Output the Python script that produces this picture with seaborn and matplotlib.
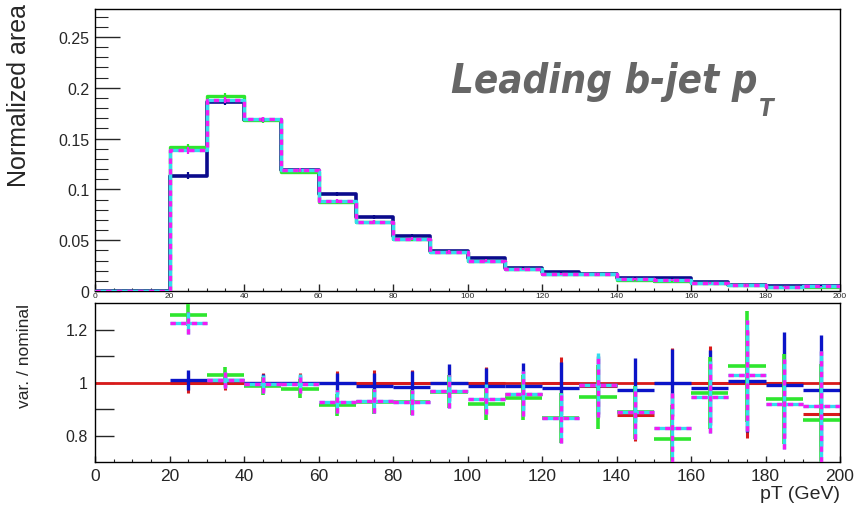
import numpy as np
import pandas as pd
import matplotlib
matplotlib.use("Agg")
import matplotlib.pyplot as plt
import seaborn as sns
from matplotlib import font_manager as fm
from matplotlib.ticker import MultipleLocator, FuncFormatter, FixedLocator

# ---------------- data ----------------
edges = list(range(0, 201, 10))
centers = [e + 5 for e in edges[:-1]]

# normalized area (top panel)
navy_vals = [0, 0, 0.1134, 0.186, 0.1685, 0.119, 0.0954, 0.0732, 0.0542, 0.039,
             0.032, 0.0225, 0.019, 0.017, 0.0127, 0.0127, 0.0085, 0.0056, 0.0046, 0.005]
green_vals = [0, 0, 0.1418, 0.1915, 0.168, 0.1173, 0.0876, 0.068, 0.0510, 0.0385,
              0.0298, 0.0215, 0.0166, 0.0163, 0.0113, 0.0102, 0.0083, 0.006, 0.0043, 0.0043]
magenta_vals = [0, 0, 0.1386, 0.188, 0.169, 0.1195, 0.0886, 0.0683, 0.0513, 0.0385,
                0.030, 0.0220, 0.0166, 0.017, 0.0114, 0.011, 0.0081, 0.0058, 0.0042, 0.0046]
top_err = [0, 0, 0.0033, 0.003, 0.0025, 0.002, 0.002, 0.002, 0.0015, 0.0015,
           0.0015, 0.001, 0.001, 0.001, 0.001, 0.001, 0.0008, 0.0008, 0.0006, 0.0006]

# ratios var / nominal (bottom panel)
nan = float("nan")
blue_ratio = [nan, nan, 1.010, 1.008, 0.999, 1.0, 0.997, 0.987, 0.982, 1.0,
              0.986, 0.986, 0.979, 0.99, 0.971, 1.0, 0.981, 1.005, 0.991, 0.971]
green_ratio = [nan, nan, 1.256, 1.030, 0.987, 0.976, 0.915, 0.928, 0.925, 0.965,
               0.917, 0.942, 0.865, 0.945, 0.887, 0.785, 0.961, 1.061, 0.937, 0.859]
magenta_ratio = [nan, nan, 1.225, 1.011, 0.995, 0.995, 0.928, 0.930, 0.925, 0.967,
                 0.938, 0.958, 0.865, 0.99, 0.887, 0.830, 0.944, 1.027, 0.920, 0.910]
red_ratio = [nan, nan, 1, 1, 1, 1, 1, 1, 1, 1,
             1, 0.958, 1, 0.987, 0.878, 1, 1, 1, 1, 0.882]
blue_err = [0, 0, 0.038, 0.025, 0.032, 0.03, 0.04, 0.05, 0.061, 0.069,
            0.07, 0.088, 0.10, 0.11, 0.12, 0.125, 0.14, 0.19, 0.20, 0.21]
var_err = [0, 0, 0.041, 0.03, 0.035, 0.036, 0.043, 0.046, 0.047, 0.063,
           0.058, 0.085, 0.095, 0.12, 0.10, 0.13, 0.136, 0.21, 0.17, 0.21]

NAVY = "#0a0a8c"
BLUE = "#0b14c8"
GREEN = "#2ee62e"
CYAN = "#33ddee"
MAGENTA = "#f21cf2"
RED = "#d81a1a"

# ---------------- style ----------------
sns.set_theme(style="white")
plt.rcParams["font.family"] = ["Liberation Sans", "DejaVu Sans"]
plt.rcParams["axes.linewidth"] = 1.0
plt.rcParams["axes.edgecolor"] = "black"

fig = plt.figure(figsize=(8.56, 5.06), dpi=100)
ax1 = fig.add_axes([95 / 856, 1 - 292 / 506, 745 / 856, 282 / 506])
ax2 = fig.add_axes([95 / 856, 1 - 463 / 506, 745 / 856, 159 / 506])

df = pd.DataFrame({"center": centers, "navy": navy_vals, "green": green_vals,
                   "magenta": magenta_vals, "err": top_err})

# ---------------- top panel ----------------
def step(ax, col, color, lw, ls="-", z=2):
    sns.histplot(data=df, x="center", weights=col, bins=edges, element="step",
                 fill=False, color=color, linewidth=lw, linestyle=ls, ax=ax,
                 zorder=z)

step(ax1, "navy", NAVY, 2.6, z=2)
step(ax1, "green", GREEN, 2.4, z=3)
step(ax1, "magenta", CYAN, 2.4, z=4)
step(ax1, "magenta", MAGENTA, 2.4, ls=(0, (1.6, 1.6)), z=5)

mask = [i for i in range(len(centers)) if navy_vals[i] > 0]
for vals, color, z in [(navy_vals, NAVY, 6), (green_vals, GREEN, 6), (magenta_vals, MAGENTA, 7)]:
    ax1.errorbar([centers[i] for i in mask], [vals[i] for i in mask],
                 yerr=[top_err[i] for i in mask], fmt="none", ecolor=color,
                 elinewidth=1.6, zorder=z)

ax1.set_xlim(0, 200)
ax1.set_ylim(0, 0.2775)
ax1.set_xlabel("")
ax1.set_ylabel("Normalized area", fontsize=18, loc="top")
ax1.yaxis.set_label_coords(-0.086, 1.02)
ax1.yaxis.set_major_locator(FixedLocator([0, 0.05, 0.1, 0.15, 0.2, 0.25]))
ax1.yaxis.set_major_formatter(FuncFormatter(lambda v, p: "0" if v == 0 else f"{v:g}"))
ax1.yaxis.set_minor_locator(MultipleLocator(0.01))
ax1.xaxis.set_major_locator(MultipleLocator(20))
ax1.xaxis.set_minor_locator(MultipleLocator(5))
ax1.tick_params(axis="y", which="major", direction="in", length=18, width=1,
                labelsize=11.5, pad=4, left=True, right=False)
ax1.tick_params(axis="y", which="minor", direction="in", length=9, width=0.8, left=True)
ax1.tick_params(axis="x", which="major", direction="in", length=5, width=1,
                labelsize=6, pad=1, bottom=True)
ax1.tick_params(axis="x", which="minor", direction="in", length=2.5, width=0.8, bottom=True)
for s in ax1.spines.values():
    s.set_visible(True)
    s.set_color("black")
    s.set_linewidth(1.0)

# title font: narrow/condensed family, face closest to bold (700), italic preferred
def wnum(w):
    if isinstance(w, (int, float)):
        return int(w)
    return fm.weight_dict.get(str(w).lower(), 400)

best = None
for f in fm.fontManager.ttflist:
    nm = f.name
    narrow = ("Narrow" in nm or "Condensed" in nm or "Oswald" in nm
              or f.stretch in ("condensed", "semi-condensed", "extra-condensed"))
    if not narrow:
        continue
    w = wnum(f.weight)
    score = -abs(w - 700) + (60 if f.style in ("italic", "oblique") else 0)
    if best is None or score > best[0]:
        best = (score, nm, w)
if best is not None:
    title_family = best[1]
    title_weight = best[2]
else:
    title_family = "DejaVu Sans"
    title_weight = "bold"
tkw = dict(fontweight=title_weight, fontstyle="italic", color="#666666",
           family=[title_family, "DejaVu Sans"], fontstretch="condensed")
t = ax1.text(0.4785, 0.705, "Leading b-jet p", transform=ax1.transAxes,
             ha="left", va="baseline", fontsize=34, **tkw)
fig.canvas.draw()
bb = t.get_window_extent()
scale = 307.0 / bb.width
t.set_fontsize(34 * min(scale, 1.8))
ax1.annotate("T", xy=(1, 0), xycoords=t, xytext=(1, -10),
             textcoords="offset points", ha="left", va="baseline",
             fontsize=t.get_fontsize() * 0.6, **tkw)

# ---------------- bottom panel ----------------
ax2.axhline(1.0, color=RED, linewidth=2.0, zorder=1)

def rbar(vals, errs, color, lw, ls="-", z=2):
    idx = [i for i in range(len(centers)) if vals[i] == vals[i]]
    x = [centers[i] for i in idx]
    y = [vals[i] for i in idx]
    e = [errs[i] for i in idx]
    eb = ax2.errorbar(x, y, xerr=5, yerr=e, fmt="none", ecolor=color,
                      elinewidth=lw, zorder=z)
    for lc in eb.lines[2]:
        lc.set_linestyle(ls)

rbar(red_ratio, var_err, RED, 2.2, z=1.5)
rbar(blue_ratio, blue_err, BLUE, 2.4, z=2)
rbar(green_ratio, var_err, GREEN, 2.6, z=4)
rbar(magenta_ratio, var_err, CYAN, 2.4, z=5)
rbar(magenta_ratio, var_err, MAGENTA, 2.4, ls=(0, (1.6, 1.6)), z=6)

ax2.set_xlim(0, 200)
ax2.set_ylim(0.7, 1.3)
ax2.yaxis.set_major_locator(FixedLocator([0.8, 0.9, 1.0, 1.1, 1.2]))
ax2.yaxis.set_major_formatter(FuncFormatter(
    lambda v, p: {0.8: "0.8", 1.0: "1", 1.2: "1.2"}.get(round(v, 1), "")))
ax2.xaxis.set_major_locator(MultipleLocator(20))
ax2.xaxis.set_minor_locator(MultipleLocator(5))
ax2.tick_params(axis="y", which="major", direction="in", length=14, width=1,
                labelsize=11.5, pad=5, left=True)
ax2.tick_params(axis="x", which="major", direction="in", length=4, width=1,
                labelsize=12.5, pad=4, bottom=True)
ax2.tick_params(axis="x", which="minor", direction="in", length=2, width=0.8, bottom=True)
ax2.set_ylabel("var. / nominal", fontsize=12.5, loc="top")
ax2.yaxis.set_label_coords(-0.084, 1.0)
ax2.set_xlabel("pT (GeV)", fontsize=14, loc="right")
ax2.xaxis.set_label_coords(1.0, -0.145)
for s in ax2.spines.values():
    s.set_visible(True)
    s.set_color("black")
    s.set_linewidth(1.0)

fig.savefig("out.png", dpi=100)
